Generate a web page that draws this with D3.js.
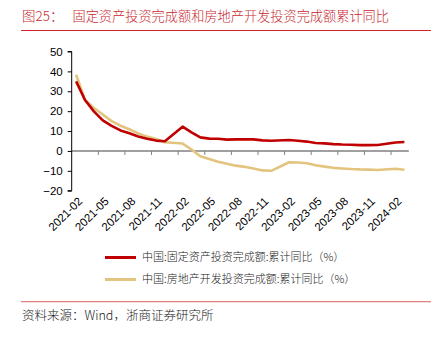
<!DOCTYPE html>
<html><head><meta charset="utf-8">
<script src="https://cdn.jsdelivr.net/npm/d3@7"></script>
<style>
body{margin:0;background:#fff;}
svg{display:block;}
</style></head>
<body>
<script>
// Months (category axis), January values are not published
const months = [];
for (let y = 2021; y <= 2024; y++) {
  for (let m = 1; m <= 12; m++) {
    if (y === 2021 && m < 2) continue;
    if (y === 2024 && m > 3) continue;
    months.push(y + "-" + String(m).padStart(2, "0"));
  }
}
const tickLabels = ["2021-02","2021-05","2021-08","2021-11","2022-02","2022-05","2022-08","2022-11","2023-02","2023-05","2023-08","2023-11","2024-02"];
// 中国:固定资产投资完成额:累计同比(%)
const faiValues = [35.0,25.6,19.9,15.4,12.6,10.3,8.9,7.3,6.1,5.2,4.9,
  null,12.2,9.3,6.8,6.2,6.1,5.7,5.8,5.9,5.8,5.3,5.1,
  null,5.5,5.1,4.7,4.0,3.8,3.4,3.2,3.1,2.9,2.9,3.0,
  null,4.2,4.5];
// 中国:房地产开发投资完成额:累计同比(%)
const reValues = [38.3,25.6,21.6,18.3,15.0,12.7,10.9,8.8,7.2,6.0,4.4,
  null,3.7,0.7,-2.7,-4.0,-5.4,-6.4,-7.4,-8.0,-8.8,-9.8,-10.0,
  null,-5.7,-5.8,-6.2,-7.2,-7.9,-8.5,-8.8,-9.1,-9.3,-9.4,-9.6,
  null,-9.0,-9.5];
const yTicks = [50,40,30,20,10,0,-10,-20];
const seriesNames = ["中国:固定资产投资完成额:累计同比（%）","中国:房地产开发投资完成额:累计同比（%）"];
const colors = ["#C00000","#E3C47E"];

const W = 441, H = 337;
const svg = d3.select("body").append("svg").attr("width", W).attr("height", H);
const cjk = "'Noto Sans CJK SC', 'Noto Sans', sans-serif";
const lat = "'Liberation Sans', Arial, sans-serif";

// Title
svg.append("text").attr("x", 22).attr("y", 21).attr("fill", "#C8282E")
  .attr("font-family", cjk).attr("font-weight", 300).attr("font-size", 13.5).text("图25：");
svg.append("text").attr("x", 72.5).attr("y", 21).attr("fill", "#C8282E")
  .attr("font-family", cjk).attr("font-weight", 300).attr("font-size", 13.2).text("固定资产投资完成额和房地产开发投资完成额累计同比");
svg.append("line").attr("x1", 21).attr("x2", 431).attr("y1", 30.5).attr("y2", 30.5)
  .attr("stroke", "#D0242A").attr("stroke-width", 1);

// Scales
const x = d3.scaleBand().domain(months).range([71.7, 408.8]).paddingInner(0).paddingOuter(0);
const y = d3.scaleLinear().domain([-20, 50]).range([190.7, 51.5]);
const cx = m => x(m) + x.bandwidth() / 2;

// Zero line with category tick marks
const g = svg.append("g");
g.append("line").attr("x1", 71.7).attr("x2", 408.8).attr("y1", y(0)).attr("y2", y(0))
  .attr("stroke", "#808080").attr("stroke-width", 1.6);
months.forEach((m, i) => {
  if (i > 0 && i % 3 === 0) {
    g.append("line").attr("x1", x(m)).attr("x2", x(m)).attr("y1", y(0)).attr("y2", y(0) + 4)
      .attr("stroke", "#808080").attr("stroke-width", 1);
  }
});

// Y axis
const yAxis = d3.axisLeft(y).tickValues(yTicks).tickSize(4).tickPadding(5).tickFormat(d3.format("d"));
const ya = svg.append("g").attr("transform", "translate(71.7,0)").call(yAxis);
ya.select(".domain").attr("stroke", "#000").attr("d", "M-4," + y(-20) + "H0V" + y(50) + "H-4");
ya.selectAll(".tick line").attr("stroke", "#000");
ya.selectAll("text").attr("font-family", lat).attr("font-size", 11.5).attr("fill", "#000");

// X labels
const xl = svg.append("g");
tickLabels.forEach(lbl => {
  xl.append("text").attr("transform", "translate(" + (cx(lbl) + 4) + ",199) rotate(-45)")
    .attr("text-anchor", "end").attr("dy", "0.35em")
    .attr("font-family", lat).attr("font-size", 11.5).attr("fill", "#000").text(lbl);
});

// Lines (real estate first, fixed-asset investment drawn on top)
const line = d3.line().x(d => cx(d.m)).y(d => y(d.v));
[[reValues, colors[1]], [faiValues, colors[0]]].forEach(([vals, col]) => {
  const data = months.map((m, i) => ({m, v: vals[i]})).filter(d => d.v !== null);
  svg.append("path").datum(data).attr("d", line).attr("fill", "none")
    .attr("stroke", col).attr("stroke-width", 2.6)
    .attr("stroke-linejoin", "round");
});

// Legend
const ly = [257.5, 279.5];
seriesNames.forEach((name, i) => {
  svg.append("line").attr("x1", 105).attr("x2", 136).attr("y1", ly[i]).attr("y2", ly[i])
    .attr("stroke", colors[i]).attr("stroke-width", 3);
  svg.append("text").attr("x", 142).attr("y", ly[i]).attr("dy", "0.35em")
    .attr("font-family", cjk).attr("font-weight", 300).attr("font-size", 11).attr("fill", "#222").text(name);
});

// Footer
svg.append("line").attr("x1", 21).attr("x2", 431).attr("y1", 301.7).attr("y2", 301.7)
  .attr("stroke", "#E08080").attr("stroke-width", 1.2);
svg.append("text").attr("x", 22).attr("y", 316).attr("dy", "0.35em")
  .attr("font-family", cjk).attr("font-weight", 300).attr("font-size", 12.5).attr("fill", "#222").text("资料来源：Wind，浙商证券研究所");
</script>
</body></html>
